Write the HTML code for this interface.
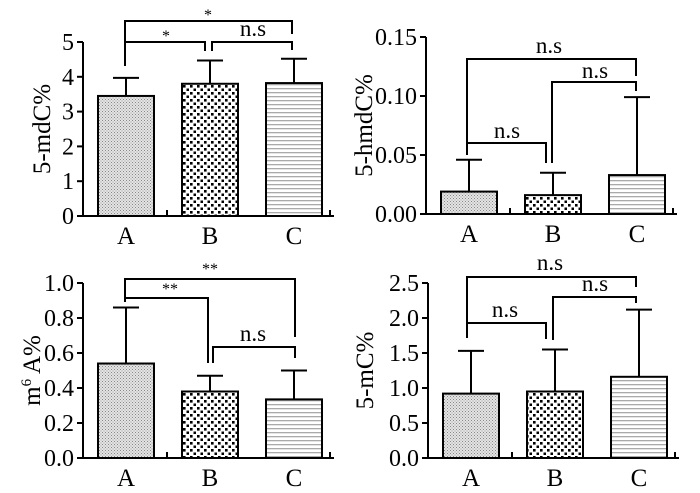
<!DOCTYPE html>
<html><head><meta charset="utf-8"><style>
html,body{margin:0;padding:0;background:#fff;}
svg{display:block;font-family:"Liberation Serif",serif;}
</style></head><body>
<svg id="c" width="700" height="493" viewBox="0 0 700 493">
<defs>
<pattern id="pA" width="3" height="3" patternUnits="userSpaceOnUse"><rect width="3" height="3" fill="#e4e4e4"/><rect width="1" height="1" fill="#888"/><rect x="1.5" y="1.5" width="1" height="1" fill="#999"/></pattern>
<pattern id="pB" width="7" height="7" patternUnits="userSpaceOnUse"><rect width="7" height="7" fill="#fff"/><rect x="1" y="1" width="2.6" height="2.6" fill="#000"/><rect x="4.5" y="4.5" width="2.6" height="2.6" fill="#000"/></pattern>
<pattern id="pC" width="4" height="4" patternUnits="userSpaceOnUse"><rect width="4" height="4" fill="#fff"/><rect y="0" width="4" height="1.3" fill="#aaa"/></pattern>
</defs>
</svg>
<script>
const categories=["A","B","C"];
const mdcMeans=[3.45,3.8,3.82];
const mdcErr=[0.52,0.67,0.7];
const mdcTicks=["0","1","2","3","4","5"];
const hmdcMeans=[0.019,0.016,0.033];
const hmdcErr=[0.027,0.019,0.066];
const hmdcTicks=["0.00","0.05","0.10","0.15"];
const m6aMeans=[0.54,0.38,0.335];
const m6aErr=[0.32,0.09,0.165];
const m6aTicks=["0.0","0.2","0.4","0.6","0.8","1.0"];
const mcMeans=[0.92,0.95,1.16];
const mcErr=[0.61,0.6,0.96];
const mcTicks=["0.0","0.5","1.0","1.5","2.0","2.5"];

const svg=document.getElementById('c');
const NS='http://www.w3.org/2000/svg';
function mk(tag,attrs,parent){const e=document.createElementNS(NS,tag);for(const k in attrs)e.setAttribute(k,attrs[k]);(parent||svg).appendChild(e);return e;}
const fills=["url(#pA)","url(#pB)","url(#pC)"];
const barOff=[[15,71],[99,155],[183,239]];

function panel(p){
  const g=mk('g',{});
  
  
  const y=v=>p.y0-(v/p.max)*(p.y0-p.yTop);
  categories.forEach((c,i)=>{
    const x0=p.ax+barOff[i][0],x1=p.ax+barOff[i][1],cx=(x0+x1)/2;
    const eb=mk('line',{x1:cx,x2:cx,y1:y(p.means[i]),y2:y(p.means[i]+p.err[i]),stroke:'#000','stroke-width':2},g);
    
    
    const cap=mk('line',{x1:cx-13,x2:cx+13,y1:y(p.means[i]+p.err[i]),y2:y(p.means[i]+p.err[i]),stroke:'#000','stroke-width':2},g);
    
    
    const r=mk('rect',{x:x0,y:y(p.means[i]),width:x1-x0,height:p.y0-y(p.means[i]),fill:fills[i],stroke:'#000','stroke-width':2},g);
    
    
    const t=mk('text',{x:cx,y:p.y0+28,'text-anchor':'middle','font-size':25},g);
    t.textContent=c;
    
    
  });
  const ya=mk('line',{x1:p.ax,x2:p.ax,y1:p.yTop,y2:p.y0+1,stroke:'#000','stroke-width':2},g);
  
  
  const xa=mk('line',{x1:p.ax-6,x2:p.ax+251,y1:p.y0,y2:p.y0,stroke:'#000','stroke-width':2},g);
  
  
  [84,247].forEach(o=>{mk('line',{x1:p.ax+o,x2:p.ax+o,y1:p.y0,y2:p.y0-6,stroke:'#000','stroke-width':2},g);});
  p.ticks.forEach((tl,i)=>{
    const v=parseFloat(tl),yy=y(v);
    mk('line',{x1:p.ax-6,x2:p.ax,y1:yy,y2:yy,stroke:'#000','stroke-width':2},g);
    const t=mk('text',{x:p.ax-9,y:yy+8,'text-anchor':'end','font-size':24},g);
    t.textContent=tl;
    
    
  });
  const tt=mk('text',{x:0,y:0,'text-anchor':'middle','font-size':25,transform:`translate(${p.titleX},${(p.y0+p.yTop)/2}) rotate(-90)`},g);
  tt.innerHTML=p.title;
  
  
  p.br.forEach(b=>{
    const pl=mk('polyline',{points:`${b[0]},${b[3]} ${b[0]},${b[2]} ${b[1]},${b[2]} ${b[1]},${b[4]}`,fill:'none',stroke:'#000','stroke-width':2},g);
    
    
    const star=b[5].indexOf('*')>=0;
    const t=mk('text',{x:b[6],y:b[7],'text-anchor':'middle','font-size':star?16:23},g);
    t.textContent=b[5];
    
    
  });
}
panel({name:'panel-5mdc',ax:83,y0:216,yTop:42,max:5,means:mdcMeans,err:mdcErr,ticks:mdcTicks,title:'5-mdC%',titleX:50,
 br:[[125,292,21,66,34,'*',208,20],[125,205,42,66,51,'*',166,41],[212,292,42,51,50,'n.s',253,36]]});
panel({name:'panel-5hmdc',ax:426,y0:214,yTop:37,max:0.15,means:hmdcMeans,err:hmdcErr,ticks:hmdcTicks,title:'5-hmdC%',titleX:372,
 br:[[467,636,59,155,76,'n.s',549,53],[467,546,143,155,163,'n.s',507,138],[552,636,82,163,91,'n.s',595,78]]});
panel({name:'panel-m6a',ax:83,y0:458,yTop:283,max:1.0,means:m6aMeans,err:m6aErr,ticks:m6aTicks,title:'m<tspan font-size="15" dy="-9">6</tspan><tspan dy="9"> A%</tspan>',titleX:40,
 br:[[125,295,279,302,337,'**',210,274],[125,208,298,302,363,'**',170,294],[213,295,347,363,358,'n.s',253,341]]});
panel({name:'panel-5mc',ax:428,y0:458,yTop:283,max:2.5,means:mcMeans,err:mcErr,ticks:mcTicks,title:'5-mC%',titleX:373,
 br:[[467,636,277,338,287,'n.s',550,270],[467,546,323,338,339,'n.s',505,317],[553,636,297,340,303,'n.s',595,291]]});
</script>
</body></html>
